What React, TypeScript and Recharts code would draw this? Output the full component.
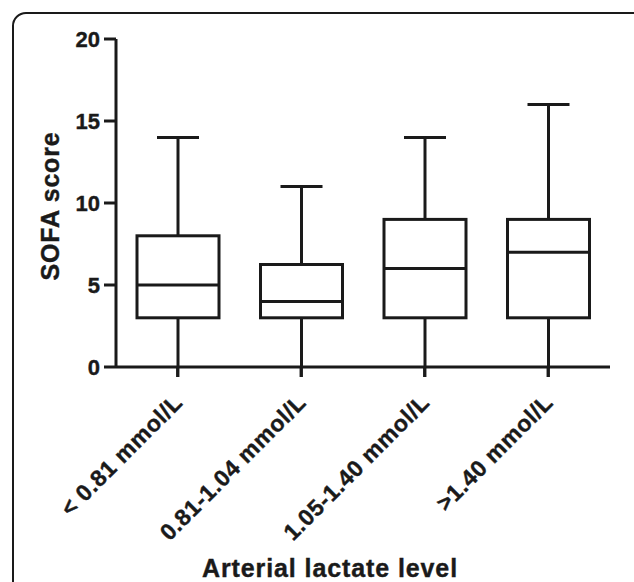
import React from 'react';
import { ComposedChart, Bar, XAxis, YAxis, Label } from 'recharts';

const categories = ['< 0.81 mmol/L', '0.81-1.04 mmol/L', '1.05-1.40 mmol/L', '>1.40 mmol/L'];
const minValues = [0, 0, 0, 0];
const q1Values = [3, 3, 3, 3];
const medianValues = [5, 4, 6, 7];
const q3Values = [8, 6.25, 9, 9];
const maxValues = [14, 11, 14, 16];
const yTicks = [0, 5, 10, 15, 20];

const data = categories.map((name, i) => ({
  name,
  min: minValues[i],
  q1: q1Values[i],
  median: medianValues[i],
  q3: q3Values[i],
  max: maxValues[i],
  range: [minValues[i], maxValues[i]],
}));

const INK = '#1a1a1a';
const FONT = '"Liberation Sans", Arial, Helvetica, sans-serif';

const BoxShape = (props: any) => {
  const { x, y, width, height, payload } = props;
  if (payload == null) return null;
  const { min, q1, median, q3, max } = payload;
  const ppu = height / (max - min);
  const yOf = (v: number) => y + height - (v - min) * ppu;
  const cx = x + width / 2;
  const capHalf = 21;
  const sw = 3;
  return (
    <g>
      <line x1={cx} x2={cx} y1={yOf(max)} y2={yOf(q3)} stroke={INK} strokeWidth={sw} />
      <line x1={cx} x2={cx} y1={yOf(q1)} y2={yOf(min)} stroke={INK} strokeWidth={sw} />
      <line x1={cx - capHalf} x2={cx + capHalf} y1={yOf(max)} y2={yOf(max)} stroke={INK} strokeWidth={sw} />
      <rect x={x} y={yOf(q3)} width={width} height={yOf(q1) - yOf(q3)} fill="#ffffff" stroke={INK} strokeWidth={sw} />
      <line x1={x} x2={x + width} y1={yOf(median)} y2={yOf(median)} stroke={INK} strokeWidth={sw} />
    </g>
  );
};

const XTick = (props: any) => {
  const { x, y, payload } = props;
  const ax = x + 6;
  const ay = y + 25;
  return (
    <g>
      <line x1={x} x2={x} y1={y - 12} y2={y - 2} stroke={INK} strokeWidth={3} />
      <text
        x={ax}
        y={ay}
        transform={`rotate(-45 ${ax} ${ay})`}
        textAnchor="end"
        fontFamily={FONT}
        fontWeight="bold"
        fontSize={23}
        letterSpacing={0.6}
        fill={INK}
        stroke={INK}
        strokeWidth={0.4}
      >
        {payload.value}
      </text>
    </g>
  );
};

const YTick = (props: any) => {
  const { x, y, payload } = props;
  return (
    <text
      x={x}
      y={y}
      dy="0.36em"
      textAnchor="end"
      fontFamily={FONT}
      fontWeight="bold"
      fontSize={22}
      fill={INK}
      stroke={INK}
      strokeWidth={0.4}
    >
      {payload.value}
    </text>
  );
};

const YTitle = (props: any) => {
  const vb = props.viewBox || { x: 20, y: 39, width: 96, height: 328 };
  const tx = vb.x + 39;
  const ty = vb.y + vb.height / 2 + 3;
  return (
    <text
      x={tx}
      y={ty}
      transform={`rotate(-90 ${tx} ${ty})`}
      textAnchor="middle"
      fontFamily={FONT}
      fontWeight="bold"
      fontSize={25}
      letterSpacing={0.8}
      fill={INK}
      stroke={INK}
      strokeWidth={0.4}
    >
      SOFA score
    </text>
  );
};

const XTitle = (props: any) => {
  const vb = props.viewBox || { x: 116, y: 367, width: 494, height: 215 };
  const tx = vb.x + vb.width / 2 - 33;
  const ty = vb.y + vb.height - 5;
  return (
    <text
      x={tx}
      y={ty}
      textAnchor="middle"
      fontFamily={FONT}
      fontWeight="bold"
      fontSize={25}
      letterSpacing={0.9}
      fill={INK}
      stroke={INK}
      strokeWidth={0.4}
    >
      Arterial lactate level
    </text>
  );
};

export default function App() {
  return (
    <div
      style={{
        position: 'absolute',
        left: 0,
        top: 0,
        width: 634,
        height: 582,
        overflow: 'hidden',
        background: '#ffffff',
      }}
    >
      <div
        style={{
          position: 'absolute',
          left: 12,
          top: 12,
          width: 640,
          height: 620,
          border: `2px solid ${INK}`,
          borderRadius: 14,
          boxSizing: 'border-box',
        }}
      />
      <div style={{ position: 'absolute', left: 0, top: 0 }}>
        <ComposedChart
          width={634}
          height={582}
          data={data}
          margin={{ top: 39, right: 24, bottom: 0, left: 20 }}
        >
          <XAxis
            dataKey="name"
            height={215}
            interval={0}
            tick={<XTick />}
            tickSize={10}
            tickMargin={2}
            stroke={INK}
            axisLine={{ stroke: INK, strokeWidth: 3 }}
            tickLine={{ stroke: INK, strokeWidth: 3 }}
          >
            <Label content={<XTitle />} />
          </XAxis>
          <YAxis
            width={96}
            domain={[0, 20]}
            ticks={yTicks}
            interval={0}
            tickSize={12}
            tickMargin={4}
            stroke={INK}
            axisLine={{ stroke: INK, strokeWidth: 3 }}
            tickLine={{ stroke: INK, strokeWidth: 3 }}
            tick={<YTick />}
          >
            <Label content={<YTitle />} />
          </YAxis>
          <Bar dataKey="range" barSize={82} isAnimationActive={false} shape={(p: any) => <BoxShape {...p} />} />
        </ComposedChart>
      </div>
    </div>
  );
}
